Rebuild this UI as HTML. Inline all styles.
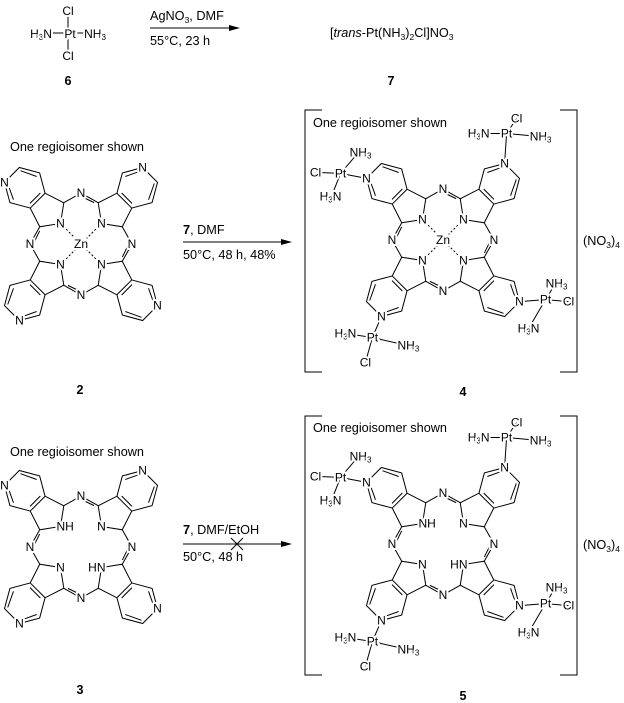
<!DOCTYPE html>
<html><head><meta charset="utf-8"><style>
html,body{margin:0;padding:0;background:#fff}
svg{display:block}
text{font-family:"Liberation Sans",Arial,sans-serif;fill:#000}
.a{font-size:12px;text-anchor:middle;dominant-baseline:central;stroke:#fff;stroke-width:4;paint-order:stroke;stroke-linejoin:round}
.t{font-size:12.7px}
.b{font-size:12.5px;font-weight:bold;text-anchor:middle}
</style></head><body>
<svg width="624" height="703" viewBox="0 0 624 703" xmlns="http://www.w3.org/2000/svg">
<defs>
<g id="q" fill="none" stroke="#000" stroke-width="1">
<path d="M29,0 L41.34,17 L61.3,10.5 L61.3,-10.5 L41.34,-17 Z M41.34,17 L36.06,36.06 M41.34,-17 L36.06,-36.06 M61.3,10.5 L79.5,21 L97.7,10.5 L97.7,-10.5 L79.5,-21 L61.3,-10.5"/>
<path d="M79.1,16.4 L94.6,9.05 M94.6,-9.05 L79.1,-16.4 M64.8,7.3 L64.8,-7.3 M38.5,-20 L34,-33"/>
</g>
<g id="zn" fill="none" stroke="#000" stroke-width="1" stroke-dasharray="2,2"><path d="M29,0 L8,0"/></g>
<g id="pc">
<use href="#q" transform="rotate(-135)"/><use href="#q" transform="rotate(-45)"/><use href="#q" transform="rotate(45)"/><use href="#q" transform="rotate(135)"/>
</g>
<g id="znb">
<use href="#zn" transform="rotate(-135)"/><use href="#zn" transform="rotate(-45)"/><use href="#zn" transform="rotate(45)"/><use href="#zn" transform="rotate(135)"/>
</g>
<g id="ptb" fill="none" stroke="#000" stroke-width="1">
<path d="M-76.5,-61.6 L-102.5,-66.6 L-127.5,-67.6 M-102.5,-66.6 L-84.5,-87.6 M-102.5,-66.6 L-111.5,-43.6"/>
<path d="M61.6,-76.5 L63.6,-106.5 L73.6,-121.5 M63.6,-106.5 L35.6,-106.5 M63.6,-106.5 L96.6,-103.5"/>
<path d="M76.5,61.6 L102.5,59.6 L125.5,61.6 M102.5,59.6 L112.5,43.6 M102.5,59.6 L85.5,88.6"/>
<path d="M-61.6,76.5 L-70.6,97.5 L-97.6,93.5 M-70.6,97.5 L-35.6,105.5 M-70.6,97.5 L-77.6,122.5"/>
</g>
</defs>

<!-- Row 1 -->
<path d="M68,14 L68,55 M40,33 L100,33" stroke="#000"/>
<text class="a" x="68" y="11">Cl</text>
<text class="a" x="68" y="56">Cl</text>
<text class="a" x="70" y="34">Pt</text>
<text class="a" x="41" y="34">H<tspan font-size="8" dy="3">3</tspan><tspan dy="-3">N</tspan></text>
<text class="a" x="95" y="34">NH<tspan font-size="8" dy="3">3</tspan></text>
<text class="b" x="68" y="85">6</text>
<path d="M150,28 L232,28" stroke="#000"/><path d="M240,28 L229,25 L229,31 Z" fill="#000"/>
<text class="t" x="150" y="20">AgNO<tspan font-size="8.5" dy="3">3</tspan><tspan dy="-3">, DMF</tspan></text>
<text class="t" x="150" y="45">55°C, 23 h</text>
<text class="t" x="330" y="37">[<tspan font-style="italic">trans</tspan>-Pt(NH<tspan font-size="8.5" dy="3">3</tspan><tspan dy="-3">)</tspan><tspan font-size="8.5" dy="3">2</tspan><tspan dy="-3">Cl]NO</tspan><tspan font-size="8.5" dy="3">3</tspan></text>
<text class="b" x="391" y="85">7</text>

<!-- Compound 2 -->
<text class="t" x="10" y="151">One regioisomer shown</text>
<g transform="translate(81,244)">
<use href="#pc"/><use href="#znb"/>
<text class="a" x="0" y="0">Zn</text>
<text class="a" x="-20.5" y="-20.5">N</text><text class="a" x="20.5" y="-20.5">N</text>
<text class="a" x="-20.5" y="20.5">N</text><text class="a" x="20.5" y="20.5">N</text>
<text class="a" x="0" y="-51">N</text><text class="a" x="51" y="0">N</text>
<text class="a" x="0" y="51">N</text><text class="a" x="-51" y="0">N</text>
<text class="a" x="-76.5" y="-61.6">N</text><text class="a" x="61.6" y="-76.5">N</text>
<text class="a" x="76.5" y="61.6">N</text><text class="a" x="-61.6" y="76.5">N</text>
</g>
<text class="b" x="80" y="394">2</text>
<path d="M183,242 L284,242" stroke="#000"/><path d="M292,242 L281,239 L281,245 Z" fill="#000"/>
<text class="t" x="183" y="234"><tspan font-weight="bold">7</tspan>, DMF</text>
<text class="t" x="183" y="259">50°C, 48 h, 48%</text>

<!-- Compound 4 -->
<path d="M322,110 L305,110 L305,372 L322,372 M560,110 L577,110 L577,372 L560,372" fill="none" stroke="#000"/>
<text class="t" x="313" y="127">One regioisomer shown</text>
<g transform="translate(443,240)">
<use href="#pc"/><use href="#znb"/><use href="#ptb"/>
<text class="a" x="0" y="0">Zn</text>
<text class="a" x="-20.5" y="-20.5">N</text><text class="a" x="20.5" y="-20.5">N</text>
<text class="a" x="-20.5" y="20.5">N</text><text class="a" x="20.5" y="20.5">N</text>
<text class="a" x="0" y="-51">N</text><text class="a" x="51" y="0">N</text>
<text class="a" x="0" y="51">N</text><text class="a" x="-51" y="0">N</text>
<text class="a" x="-76.5" y="-61.6">N</text><text class="a" x="61.6" y="-76.5">N</text>
<text class="a" x="76.5" y="61.6">N</text><text class="a" x="-61.6" y="76.5">N</text>
<text class="a" x="-102.5" y="-66.6">Pt</text><text class="a" x="-127.5" y="-67.6">Cl</text>
<text class="a" x="-82.5" y="-87.6">NH<tspan font-size="8" dy="3">3</tspan></text>
<text class="a" x="-112.5" y="-43.6">H<tspan font-size="8" dy="3">3</tspan><tspan dy="-3">N</tspan></text>
<text class="a" x="63.6" y="-106.5">Pt</text><text class="a" x="73.6" y="-121.5">Cl</text>
<text class="a" x="35.6" y="-106.5">H<tspan font-size="8" dy="3">3</tspan><tspan dy="-3">N</tspan></text>
<text class="a" x="97.6" y="-103.5">NH<tspan font-size="8" dy="3">3</tspan></text>
<text class="a" x="102.5" y="59.6">Pt</text><text class="a" x="125.5" y="61.6">Cl</text>
<text class="a" x="113.5" y="43.6">NH<tspan font-size="8" dy="3">3</tspan></text>
<text class="a" x="85.5" y="88.6">H<tspan font-size="8" dy="3">3</tspan><tspan dy="-3">N</tspan></text>
<text class="a" x="-70.6" y="97.5">Pt</text><text class="a" x="-77.6" y="122.5">Cl</text>
<text class="a" x="-97.6" y="93.5">H<tspan font-size="8" dy="3">3</tspan><tspan dy="-3">N</tspan></text>
<text class="a" x="-34.6" y="105.5">NH<tspan font-size="8" dy="3">3</tspan></text>
</g>
<text class="t" x="583" y="245">(NO<tspan font-size="8.5" dy="3">3</tspan><tspan dy="-3">)</tspan><tspan font-size="8.5" dy="3">4</tspan></text>
<text class="b" x="463" y="396">4</text>

<!-- Compound 3 -->
<text class="t" x="10" y="456">One regioisomer shown</text>
<g transform="translate(81,547)">
<use href="#pc"/>
<text class="a" x="-20.5" y="-20.5" style="text-anchor:start" dx="-4">NH</text><text class="a" x="20.5" y="-20.5">N</text>
<text class="a" x="-20.5" y="20.5">N</text><text class="a" x="20.5" y="20.5" style="text-anchor:end" dx="4">HN</text>
<text class="a" x="0" y="-51">N</text><text class="a" x="51" y="0">N</text>
<text class="a" x="0" y="51">N</text><text class="a" x="-51" y="0">N</text>
<text class="a" x="-76.5" y="-61.6">N</text><text class="a" x="61.6" y="-76.5">N</text>
<text class="a" x="76.5" y="61.6">N</text><text class="a" x="-61.6" y="76.5">N</text>
</g>
<text class="b" x="80" y="694">3</text>
<path d="M183,544 L284,544" stroke="#000"/><path d="M292,544 L281,541 L281,547 Z" fill="#000"/>
<path d="M231,538 L243,550 M243,538 L231,550" stroke="#000"/>
<text class="t" x="183" y="534"><tspan font-weight="bold">7</tspan>, DMF/EtOH</text>
<text class="t" x="183" y="561">50°C, 48 h</text>

<!-- Compound 5 -->
<path d="M322,416 L305,416 L305,675 L322,675 M560,416 L577,416 L577,675 L560,675" fill="none" stroke="#000"/>
<text class="t" x="313" y="432">One regioisomer shown</text>
<g transform="translate(443,544)">
<use href="#pc"/><use href="#ptb"/>
<text class="a" x="-20.5" y="-20.5" style="text-anchor:start" dx="-4">NH</text><text class="a" x="20.5" y="-20.5">N</text>
<text class="a" x="-20.5" y="20.5">N</text><text class="a" x="20.5" y="20.5" style="text-anchor:end" dx="4">HN</text>
<text class="a" x="0" y="-51">N</text><text class="a" x="51" y="0">N</text>
<text class="a" x="0" y="51">N</text><text class="a" x="-51" y="0">N</text>
<text class="a" x="-76.5" y="-61.6">N</text><text class="a" x="61.6" y="-76.5">N</text>
<text class="a" x="76.5" y="61.6">N</text><text class="a" x="-61.6" y="76.5">N</text>
<text class="a" x="-102.5" y="-66.6">Pt</text><text class="a" x="-127.5" y="-67.6">Cl</text>
<text class="a" x="-82.5" y="-87.6">NH<tspan font-size="8" dy="3">3</tspan></text>
<text class="a" x="-112.5" y="-43.6">H<tspan font-size="8" dy="3">3</tspan><tspan dy="-3">N</tspan></text>
<text class="a" x="63.6" y="-106.5">Pt</text><text class="a" x="73.6" y="-121.5">Cl</text>
<text class="a" x="35.6" y="-106.5">H<tspan font-size="8" dy="3">3</tspan><tspan dy="-3">N</tspan></text>
<text class="a" x="97.6" y="-103.5">NH<tspan font-size="8" dy="3">3</tspan></text>
<text class="a" x="102.5" y="59.6">Pt</text><text class="a" x="125.5" y="61.6">Cl</text>
<text class="a" x="113.5" y="43.6">NH<tspan font-size="8" dy="3">3</tspan></text>
<text class="a" x="85.5" y="88.6">H<tspan font-size="8" dy="3">3</tspan><tspan dy="-3">N</tspan></text>
<text class="a" x="-70.6" y="97.5">Pt</text><text class="a" x="-77.6" y="122.5">Cl</text>
<text class="a" x="-97.6" y="93.5">H<tspan font-size="8" dy="3">3</tspan><tspan dy="-3">N</tspan></text>
<text class="a" x="-34.6" y="105.5">NH<tspan font-size="8" dy="3">3</tspan></text>
</g>
<text class="t" x="583" y="549">(NO<tspan font-size="8.5" dy="3">3</tspan><tspan dy="-3">)</tspan><tspan font-size="8.5" dy="3">4</tspan></text>
<text class="b" x="463" y="700">5</text>
</svg>
</body></html>
